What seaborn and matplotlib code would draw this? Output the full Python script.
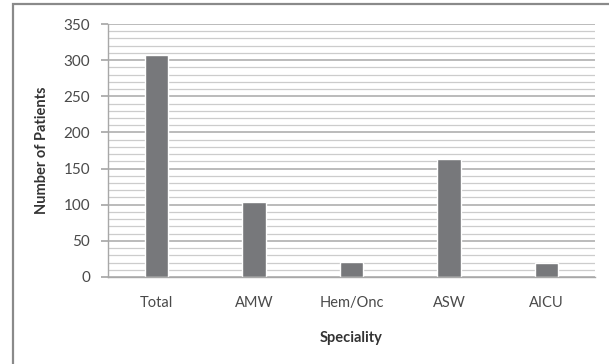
import matplotlib
matplotlib.use("Agg")
import matplotlib.pyplot as plt
import seaborn as sns
import pandas as pd
from matplotlib.patches import Rectangle
from matplotlib.ticker import MultipleLocator

categories = ["Total", "AMW", "Hem/Onc", "ASW", "AICU"]
patients = [307, 104, 21, 163, 19]

df = pd.DataFrame({"Speciality": categories, "Number of Patients": patients})

sns.set_theme(style="white")
plt.rcParams['font.family'] = ['Lato', 'DejaVu Sans']

fig = plt.figure(figsize=(6.09, 3.64), dpi=100)
ax = fig.add_axes([108/609, 1-277/364, (595-108)/609, (277-24)/364])

ax.set_axisbelow(True)
ax.yaxis.set_major_locator(MultipleLocator(50))
ax.yaxis.set_minor_locator(MultipleLocator(10))
ax.grid(which="major", axis="y", color="#a8a8a8", linewidth=1.1)
ax.grid(which="minor", axis="y", color="#cccccc", linewidth=0.9)
ax.grid(which="major", axis="x", visible=False)

sns.barplot(data=df, x="Speciality", y="Number of Patients", color="#77787b",
            width=0.24, saturation=1, ax=ax)

ax.set_ylim(0, 350)
ax.set_xlim(-0.5, 4.5)
for s in ["top", "right"]:
    ax.spines[s].set_visible(False)
ax.spines["left"].set_color("#a8a8a8")
ax.spines["bottom"].set_color("#a8a8a8")
ax.spines["left"].set_linewidth(1.0)
ax.spines["bottom"].set_linewidth(1.0)

ax.tick_params(axis="y", which="major", left=True, length=5, color="#a8a8a8",
               labelsize=11, labelcolor="#4a4a4a", pad=8)
ax.tick_params(axis="y", which="minor", left=False)
ax.tick_params(axis="x", bottom=False, labelsize=10.5, labelcolor="#4a4a4a", pad=8)

ax.set_xlabel("Speciality", fontsize=10.5, fontweight="bold", color="#333333", labelpad=15)
ax.set_ylabel("Number of Patients", fontsize=10.5, fontweight="bold", color="#333333", labelpad=10)

fig.patches.append(Rectangle((13/609, -0.1), 1.2, 1.1 - 4/364,
                             transform=fig.transFigure, fill=False,
                             edgecolor="#8a8a8a", linewidth=1.6))

fig.savefig("out.png", dpi=100)
